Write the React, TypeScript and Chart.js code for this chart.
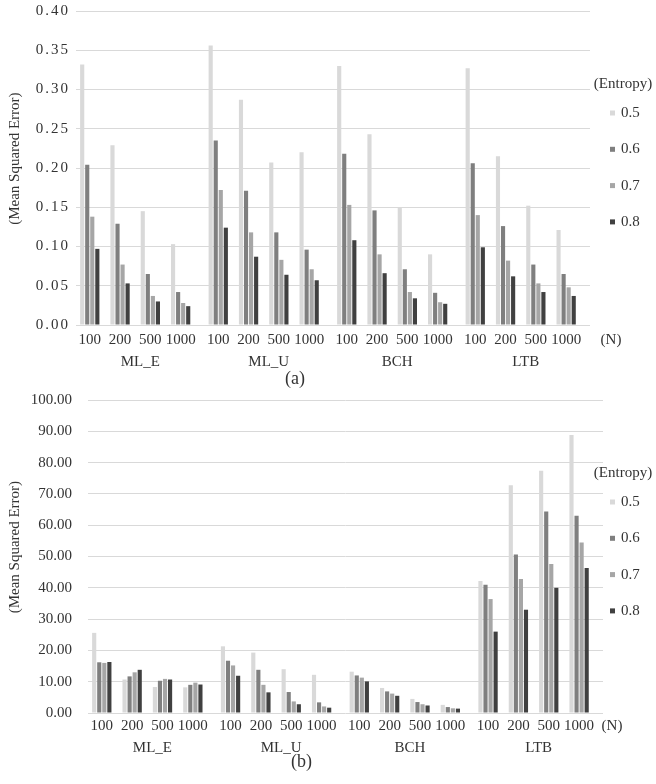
import React, { useEffect, useRef } from "react";
import { Chart, registerables } from "chart.js";

Chart.register(...registerables);

// ---- data ----
const methods = ["ML_E", "ML_U", "BCH", "LTB"];
const nLabels = ["100", "200", "500", "1000"];
const entropyLabels = ["0.5", "0.6", "0.7", "0.8"];

// order: ML_E(100,200,500,1000), ML_U(...), BCH(...), LTB(...)
const mseA_05 = [0.332, 0.229, 0.145, 0.103, 0.356, 0.287, 0.207, 0.220, 0.330, 0.243, 0.150, 0.090, 0.327, 0.215, 0.152, 0.121];
const mseA_06 = [0.204, 0.129, 0.065, 0.042, 0.235, 0.171, 0.118, 0.096, 0.218, 0.146, 0.071, 0.041, 0.206, 0.126, 0.077, 0.065];
const mseA_07 = [0.138, 0.077, 0.037, 0.028, 0.172, 0.118, 0.083, 0.071, 0.153, 0.090, 0.042, 0.029, 0.140, 0.082, 0.053, 0.048];
const mseA_08 = [0.097, 0.053, 0.030, 0.024, 0.124, 0.087, 0.064, 0.057, 0.108, 0.066, 0.034, 0.027, 0.099, 0.062, 0.042, 0.037];

const mseB_05 = [25.6, 10.7, 8.3, 8.2, 21.3, 19.3, 14.0, 12.2, 13.2, 8.0, 4.5, 2.6, 42.2, 72.8, 77.4, 88.8];
const mseB_06 = [16.2, 11.7, 10.3, 9.0, 16.7, 13.8, 6.7, 3.4, 12.0, 6.9, 3.5, 1.9, 41.0, 50.6, 64.4, 63.0];
const mseB_07 = [16.0, 13.0, 10.9, 9.7, 15.2, 9.0, 3.7, 2.1, 11.3, 6.2, 2.8, 1.5, 36.4, 42.8, 47.6, 54.5];
const mseB_08 = [16.3, 13.8, 10.7, 9.1, 11.9, 6.6, 2.8, 1.7, 10.1, 5.5, 2.4, 1.4, 26.0, 33.0, 40.0, 46.3];

const yTicksA = { max: 0.4, step: 0.05 };
const yTicksB = { max: 100, step: 10 };

// ---- styles ----
const barColors = ["#d9d9d9", "#7f7f7f", "#a6a6a6", "#404040"];
const textColor = "#333333";
const gridColor = "#d9d9d9";
const FONT = "'Liberation Serif', 'Times New Roman', serif";
const SPACERS = 2;

Chart.defaults.font.family = FONT;
Chart.defaults.color = textColor;

function buildDatasets(series: number[][]) {
  const ds: any[] = [];
  nLabels.forEach((_, n) => {
    series.forEach((vals, e) => {
      ds.push({
        label: entropyLabels[e],
        data: methods.map((__, m) => vals[m * nLabels.length + n]),
        backgroundColor: barColors[e],
        borderWidth: 0,
      });
    });
    for (let s = 0; s < SPACERS; s++) {
      ds.push({
        label: "",
        data: methods.map(() => null),
        backgroundColor: "rgba(0,0,0,0)",
        borderWidth: 0,
      });
    }
  });
  return ds;
}

const decorPlugin = {
  id: "decor",
  afterDraw(chart: any, _args: any, opts: any) {
    const { ctx, chartArea } = chart;
    const group = entropyLabels.length + SPACERS;
    ctx.save();
    ctx.fillStyle = textColor;
    ctx.font = `15px ${FONT}`;
    ctx.textAlign = "center";
    ctx.textBaseline = "middle";
    const yN = chartArea.bottom + opts.nOffset;
    nLabels.forEach((lab, n) => {
      const first = chart.getDatasetMeta(n * group).data;
      const last = chart.getDatasetMeta(n * group + entropyLabels.length - 1).data;
      methods.forEach((_, m) => {
        const x = (first[m].x + last[m].x) / 2;
        ctx.fillText(lab, x, yN);
      });
    });
    ctx.fillText("(N)", opts.unitX, yN);

    // legend
    ctx.fillText("(Entropy)", opts.legendTitleX, opts.legendTitleY);
    ctx.textAlign = "left";
    entropyLabels.forEach((lab, e) => {
      const ds = chart.data.datasets[e];
      const y = opts.legendTop + e * opts.legendPitch;
      ctx.fillStyle = ds.backgroundColor;
      ctx.fillRect(opts.legendBoxX, y - 2.5, 5, 5);
      ctx.fillStyle = textColor;
      ctx.fillText(ds.label, opts.legendBoxX + 11, y);
    });
    ctx.restore();
  },
};

type PanelCfg = {
  series: number[][];
  yMax: number;
  yStep: number;
  height: number;
  title: string;
  titlePadTop: number;
  padding: { top: number; right: number; bottom: number; left: number };
  yWidth: number;
  yTickPad: number;
  yTickSpacing: number;
  xHeight: number;
  xTickPad: number;
  decor: any;
};

function Panel({ cfg }: { cfg: PanelCfg }) {
  const ref = useRef<HTMLCanvasElement | null>(null);
  useEffect(() => {
    if (!ref.current) return;
    const chart = new Chart(ref.current, {
      type: "bar",
      data: { labels: methods, datasets: buildDatasets(cfg.series) },
      plugins: [decorPlugin],
      options: {
        responsive: false,
        animation: false,
        layout: { padding: cfg.padding },
        datasets: { bar: { categoryPercentage: 0.943, barPercentage: 0.82 } },
        scales: {
          x: {
            grid: { display: false },
            border: { display: false },
            ticks: { padding: cfg.xTickPad, font: { size: 15 }, color: textColor, maxRotation: 0 },
            afterFit: (s: any) => {
              s.height = cfg.xHeight;
              s.paddingLeft = 0;
              s.paddingRight = 0;
            },
          },
          y: {
            min: 0,
            max: cfg.yMax,
            grid: { color: gridColor, lineWidth: 1, drawTicks: false },
            border: { display: false },
            ticks: {
              stepSize: cfg.yStep,
              padding: cfg.yTickPad,
              font: { size: 15 },
              color: textColor,
              callback: (v: any) => Number(v).toFixed(2),
            },
            title: {
              display: true,
              text: "     (Mean Squared Error)",
              font: { size: 15 },
              color: textColor,
              padding: { top: 6, bottom: 0 },
            },
            afterFit: (s: any) => {
              s.width = cfg.yWidth;
              s.paddingTop = 0;
              s.paddingBottom = 0;
            },
          },
        },
        plugins: {
          legend: { display: false },
          tooltip: { enabled: false },
          title: {
            display: true,
            text: cfg.title,
            position: "bottom",
            font: { size: 18, weight: "normal" },
            color: textColor,
            padding: { top: cfg.titlePadTop, bottom: 0 },
          },
          decor: cfg.decor,
        } as any,
      },
    });
    if (cfg.yTickSpacing) {
      const ys: any = chart.scales.y;
      const orig = ys.drawLabels.bind(ys);
      ys.drawLabels = (area: any) => {
        const c: any = chart.ctx;
        c.save();
        c.letterSpacing = `${cfg.yTickSpacing}px`;
        orig(area);
        c.restore();
      };
      chart.draw();
    }
    return () => chart.destroy();
  }, [cfg]);
  return <canvas ref={ref} width={656} height={cfg.height} style={{ display: "block" }} />;
}

const panelA: PanelCfg = {
  series: [mseA_05, mseA_06, mseA_07, mseA_08],
  yMax: yTicksA.max,
  yStep: yTicksA.step,
  height: 390,
  title: "(a)",
  titlePadTop: -4.8,
  padding: { top: 11, right: 66, bottom: 0.2, left: 0 },
  yWidth: 76,
  yTickPad: 6,
  yTickSpacing: 2,
  xHeight: 48,
  xTickPad: 20,
  decor: { nOffset: 15, unitX: 611, legendTitleX: 623, legendTitleY: 84, legendBoxX: 610, legendTop: 113, legendPitch: 36.3 },
};

const panelB: PanelCfg = {
  series: [mseB_05, mseB_06, mseB_07, mseB_08],
  yMax: yTicksB.max,
  yStep: yTicksB.step,
  height: 394,
  title: "(b)",
  titlePadTop: -5,
  padding: { top: 10, right: 53, bottom: 10.7, left: 0 },
  yWidth: 88,
  yTickPad: 16,
  yTickSpacing: 0,
  xHeight: 43.7,
  xTickPad: 18,
  decor: { nOffset: 13, unitX: 612, legendTitleX: 623, legendTitleY: 83, legendBoxX: 610, legendTop: 112, legendPitch: 36.3 },
};

export default function App() {
  return (
    <div style={{ position: "absolute", left: 0, top: 0, width: 656, height: 784, background: "#fff" }}>
      <Panel cfg={panelA} />
      <Panel cfg={panelB} />
    </div>
  );
}
